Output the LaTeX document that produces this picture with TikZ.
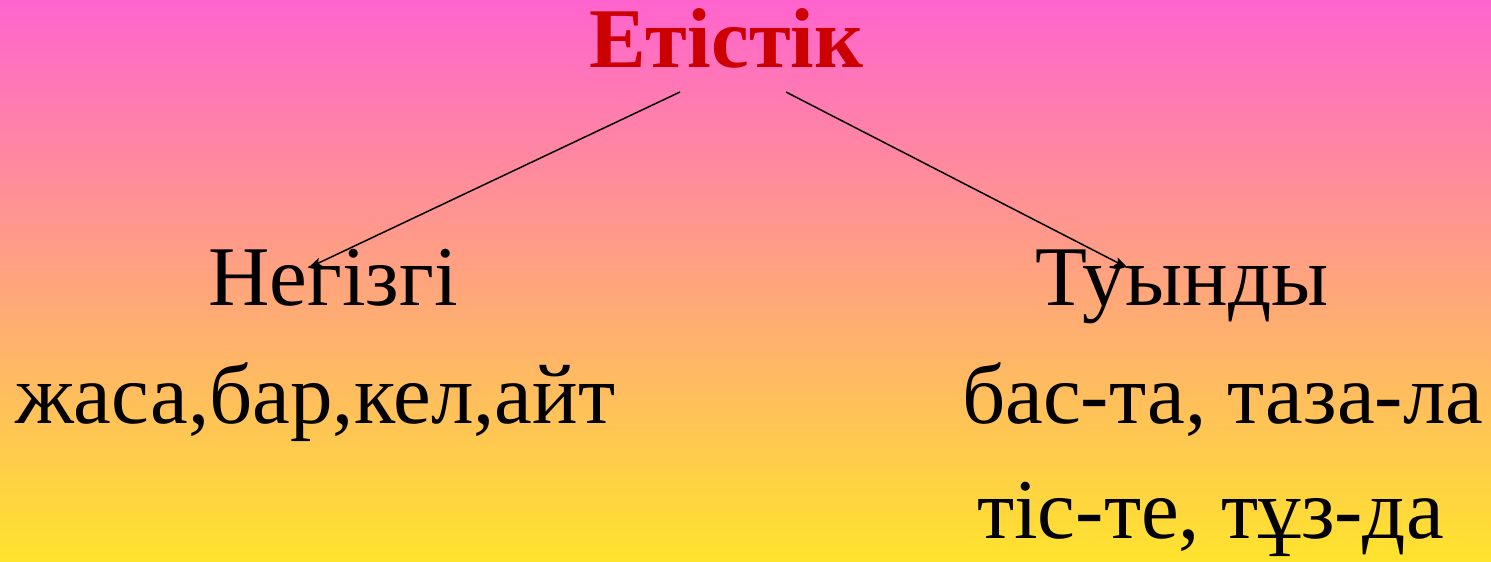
\documentclass[tikz,border=0pt]{standalone}
\usepackage{fontspec}
\setmainfont{Liberation Serif}
\usetikzlibrary{arrows.meta}
\definecolor{topc}{RGB}{255,100,206}
\definecolor{botc}{RGB}{255,228,45}
\definecolor{titlec}{RGB}{204,0,0}
\tikzset{
  word/.style={anchor=base west, inner sep=0pt, font=\fontsize{85}{100}\selectfont},
  titleword/.style={anchor=base west, inner sep=0pt, text=titlec, font=\fontsize{85}{100}\selectfont\bfseries},
  branch/.style={line width=1.5pt, -{Stealth[length=14pt,width=9pt,inset=3pt]}}
}
\begin{document}
\begin{tikzpicture}[x=1pt,y=-1pt]
\shade[top color=topc, bottom color=botc] (0,0) rectangle (1491,562);
\useasboundingbox (0,0) rectangle (1491,562);
\node[titleword] (title) at (589,67) {Етістік};
\node[word] (neg) at (208,305) {Негізгі};
\node[word] (tuy) at (1035,305) {Туынды};
\node[word] (ex1) at (15,423) {жаса,бар,кел,айт};
\node[word] (ex2) at (962,423) {бас-та, таза-ла};
\node[word] (ex3) at (977,538) {тіс-те, тұз-да};
\coordinate (ls) at (680,92);
\coordinate (rs) at (786,92);
\coordinate (le) at (308,268);
\coordinate (re) at (1128,268);
\draw[branch] (ls) -- (le);
\draw[branch] (rs) -- (re);
\end{tikzpicture}
\end{document}
